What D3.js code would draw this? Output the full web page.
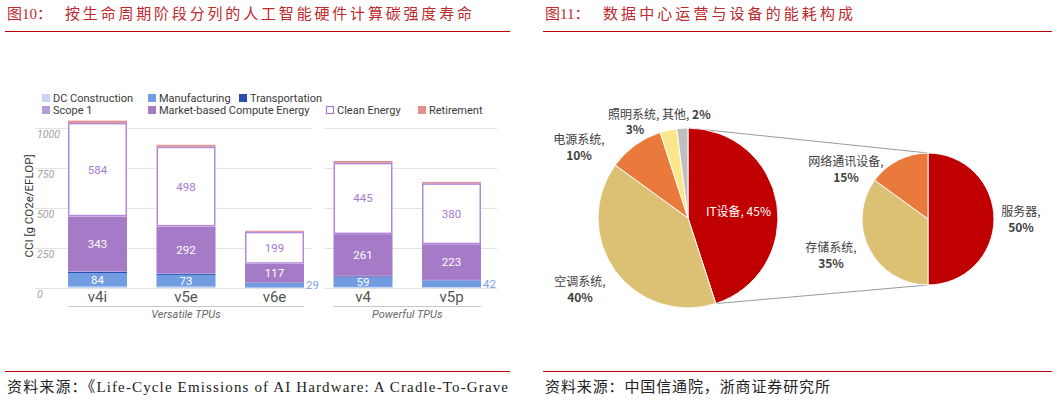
<!DOCTYPE html>
<html>
<head>
<meta charset="utf-8">
<script src="https://cdn.jsdelivr.net/npm/d3@7"></script>
<style>
  body { margin: 0; background: #fff; }
  svg { display: block; }
</style>
</head>
<body>
<div id="chart"></div>
<script>
// TPU carbon intensity by life-cycle stage (g CO2e / EFLOP)
const tpuNames = ['v4i', 'v5e', 'v6e', 'v4', 'v5p'];
const tpuGroups = ['Versatile TPUs', 'Versatile TPUs', 'Versatile TPUs', 'Powerful TPUs', 'Powerful TPUs'];
const stageNames = ['DC Construction', 'Manufacturing', 'Transportation', 'Scope 1',
  'Market-based Compute Energy', 'Clean Energy', 'Retirement'];
const dcConstruction = [9, 9, 3, 7, 6];
const manufacturing = [84, 73, 29, 59, 42];
const transportation = [9, 8, 2, 7, 1];
const scope1 = [3, 3, 1, 3, 2];
const marketEnergy = [343, 292, 117, 261, 223];
const cleanEnergy = [584, 498, 199, 445, 380];
const retirement = [14, 12, 7, 12, 9];
const yTicks = [0, 250, 500, 750, 1000];

// data centre energy breakdown (%)
const energyParts = ['IT设备', '空调系统', '电源系统', '照明系统', '其他'];
const energyShare = [45, 40, 10, 3, 2];
const itParts = ['服务器', '存储系统', '网络通讯设备'];
const itShare = [50, 35, 15];

const W = 1058, H = 402;
const svg = d3.select('#chart').append('svg').attr('width', W).attr('height', H);

const cjkSerif = '"Liberation Serif", "Noto Sans CJK SC", serif';
const cjkSans = '"Noto Sans CJK SC", sans-serif';
const redTitle = '#bd2a2e';
const redLine = '#c00000';

// ---------- headers and footers ----------
function header(x0, x1, num, title, titleX, titleLen) {
  svg.append('text').attr('x', x0 + 2).attr('y', 19)
    .attr('font-family', cjkSerif).attr('font-size', 15).attr('fill', redTitle)
    .text(num);
  svg.append('text').attr('x', titleX).attr('y', 19)
    .attr('font-family', cjkSerif).attr('font-size', 15).attr('fill', redTitle)
    .attr('textLength', titleLen).attr('lengthAdjust', 'spacing')
    .text(title);
  svg.append('line').attr('x1', x0).attr('x2', x1).attr('y1', 31.5).attr('y2', 31.5)
    .attr('stroke', redLine).attr('stroke-width', 1);
  svg.append('line').attr('x1', x0).attr('x2', x1).attr('y1', 371.5).attr('y2', 371.5)
    .attr('stroke', redLine).attr('stroke-width', 1);
}
header(5, 510, '图10：', '按生命周期阶段分列的人工智能硬件计算碳强度寿命', 65, 407);
header(543, 1052, '图11：', '数据中心运营与设备的能耗构成', 603, 250);

svg.append('text').attr('x', 7).attr('y', 392)
  .attr('font-family', cjkSerif).attr('font-size', 15).attr('fill', '#222')
  .attr('textLength', 501).attr('lengthAdjust', 'spacing')
  .text('资料来源：《Life-Cycle Emissions of AI Hardware: A Cradle-To-Grave');
svg.append('text').attr('x', 545).attr('y', 392)
  .attr('font-family', cjkSerif).attr('font-size', 15).attr('fill', '#222')
  .attr('textLength', 285).attr('lengthAdjust', 'spacing')
  .text('资料来源：中国信通院，浙商证券研究所');

// ---------- left: stacked bars ----------
const stageColors = ['#c6d6f4', '#729ce2', '#2c4db0', '#b79bd8', '#a57bc8', '#ffffff', '#e39090'];
const stageSeries = [dcConstruction, manufacturing, transportation, scope1, marketEnergy, cleanEnergy, retirement];

const table = tpuNames.map((name, i) => {
  const row = { name: name, group: tpuGroups[i] };
  stageNames.forEach((s, k) => { row[s] = stageSeries[k][i]; });
  return row;
});
const stacked = d3.stack().keys(stageNames)(table);

const x = d3.scaleBand().domain(tpuNames).range([68, 481]).paddingInner(1 / 3).paddingOuter(0);
const y = d3.scaleLinear().domain([0, 1000]).range([288, 128]);

const left = svg.append('g').attr('font-family', 'Roboto, sans-serif');

// gridlines broken between the two TPU groups
const gridSpans = [[35, 311], [325, 497]];
gridSpans.forEach(sp => {
  left.append('g').selectAll('line').data(yTicks).join('line')
    .attr('x1', sp[0]).attr('x2', sp[1])
    .attr('y1', d => y(d) + 0.5).attr('y2', d => y(d) + 0.5)
    .attr('stroke', '#e2e2e2').attr('stroke-width', 1);
});
left.append('g').selectAll('text').data(yTicks).join('text')
  .attr('x', 37).attr('y', d => y(d) + 10)
  .attr('font-size', 10.5).attr('font-style', 'italic').attr('fill', '#a0a0a0')
  .text(d => d);

left.append('text')
  .attr('transform', 'translate(33,206) rotate(-90)')
  .attr('text-anchor', 'middle').attr('font-size', 11.5).attr('fill', '#333')
  .text('CCI [g CO2e/EFLOP]');

// bars
const layers = left.append('g').selectAll('g').data(stacked).join('g')
  .attr('fill', (d, i) => stageColors[i]);
layers.selectAll('rect').data(d => d).join('rect')
  .attr('x', d => x(d.data.name))
  .attr('width', x.bandwidth())
  .attr('y', d => y(d[1]))
  .attr('height', d => y(d[0]) - y(d[1]));

// clean energy outline
left.append('g').selectAll('rect').data(stacked[5]).join('rect')
  .attr('x', d => x(d.data.name) + 0.75)
  .attr('width', x.bandwidth() - 1.5)
  .attr('y', d => y(d[1]) + 0.75)
  .attr('height', d => y(d[0]) - y(d[1]) - 1.5)
  .attr('fill', 'none').attr('stroke', '#b48ad8').attr('stroke-width', 1.5);

// value labels
function segLabels(layer, fillIn, fillOut) {
  left.append('g').selectAll('text').data(layer).join('text')
    .each(function (d) {
      const h = y(d[0]) - y(d[1]);
      const cy = (y(d[0]) + y(d[1])) / 2 + 4;
      const t = d3.select(this).attr('font-size', 11.5).text(d[1] - d[0]);
      if (h >= 8) {
        t.attr('x', x(d.data.name) + x.bandwidth() / 2).attr('y', cy)
          .attr('text-anchor', 'middle').attr('fill', fillIn);
      } else {
        t.attr('x', x(d.data.name) + x.bandwidth() + 2).attr('y', cy)
          .attr('text-anchor', 'start').attr('fill', fillOut);
      }
    });
}
segLabels(stacked[1], '#fff', '#7fa2e8');
segLabels(stacked[4], '#fff', '#fff');
segLabels(stacked[5], '#a77bd2', '#a77bd2');

// category labels
left.append('g').selectAll('text').data(tpuNames).join('text')
  .attr('x', d => x(d) + x.bandwidth() / 2).attr('y', 302)
  .attr('text-anchor', 'middle').attr('font-size', 15).attr('fill', '#555')
  .text(d => d);

// group underline + labels
const groupNames = Array.from(new Set(tpuGroups));
groupNames.forEach(g => {
  const members = tpuNames.filter((n, i) => tpuGroups[i] === g);
  const gx0 = x(members[0]), gx1 = x(members[members.length - 1]) + x.bandwidth();
  left.append('line').attr('x1', gx0).attr('x2', gx1).attr('y1', 306.5).attr('y2', 306.5)
    .attr('stroke', '#c8c8c8').attr('stroke-width', 1);
  left.append('text').attr('x', (gx0 + gx1) / 2).attr('y', 318)
    .attr('text-anchor', 'middle').attr('font-size', 11).attr('font-style', 'italic')
    .attr('fill', '#666').text(g);
});

// legend
const legendPos = [[42, 94], [148, 94], [239, 94], [42, 106], [148, 106], [326, 106], [418, 106]];
const legend = left.append('g').selectAll('g').data(stageNames).join('g')
  .attr('transform', (d, i) => `translate(${legendPos[i][0]},${legendPos[i][1]})`);
legend.append('rect')
  .attr('x', (d, i) => i === 5 ? 0.5 : 0).attr('y', (d, i) => i === 5 ? 0.5 : 0)
  .attr('width', (d, i) => i === 5 ? 7 : 8).attr('height', (d, i) => i === 5 ? 7 : 8)
  .attr('fill', (d, i) => stageColors[i])
  .attr('stroke', (d, i) => i === 5 ? '#a57bc8' : 'none').attr('stroke-width', 1.2);
legend.append('text').attr('x', 11).attr('y', 8)
  .attr('font-size', 11).attr('fill', '#3a3a3a').text(d => d);

// ---------- right: pie of pie ----------
const right = svg.append('g').attr('font-family', cjkSans);
const energyColors = ['#c00000', '#dcc073', '#e97a3c', '#fbe68c', '#bfbfbf'];
const itColors = ['#c00000', '#dcc073', '#e97a3c'];

const bigC = [688, 218], bigR = 90;
const smallC = [928, 219], smallR = 66;

const pie = d3.pie().sort(null).value(d => d);
const bigArcs = pie(energyShare);
const smallArcs = pie(itShare);
const bigArc = d3.arc().innerRadius(0).outerRadius(bigR);
const smallArc = d3.arc().innerRadius(0).outerRadius(smallR);

function polar(c, r, a) { return [c[0] + r * Math.sin(a), c[1] - r * Math.cos(a)]; }

// connector lines from the IT slice to the second pie
const itSlice = bigArcs[0];
const conn = [
  [polar(bigC, bigR, itSlice.startAngle), polar(smallC, smallR, 0)],
  [polar(bigC, bigR, itSlice.endAngle), polar(smallC, smallR, Math.PI)]
];
right.append('g').selectAll('line').data(conn).join('line')
  .attr('x1', d => d[0][0]).attr('y1', d => d[0][1])
  .attr('x2', d => d[1][0]).attr('y2', d => d[1][1])
  .attr('stroke', '#808080').attr('stroke-width', 0.8);

right.append('g').attr('transform', `translate(${bigC})`)
  .selectAll('path').data(bigArcs).join('path')
  .attr('d', bigArc).attr('fill', (d, i) => energyColors[i])
  .attr('stroke', '#fff').attr('stroke-width', 1);

right.append('g').attr('transform', `translate(${smallC})`)
  .selectAll('path').data(smallArcs).join('path')
  .attr('d', smallArc).attr('fill', (d, i) => itColors[i])
  .attr('stroke', '#fff').attr('stroke-width', 1);

// labels (positions are layout offsets from each pie centre)
function pieLabel(cx, cy, lines, color) {
  const t = right.append('text').attr('text-anchor', 'middle')
    .attr('font-size', 12).attr('fill', color);
  lines.forEach((ln, i) => {
    t.append('tspan').attr('x', cx).attr('y', cy + i * 16)
      .attr('font-weight', /%$/.test(ln) && i > 0 ? 600 : 400).text(ln);
  });
}
const itCentroid = bigArc.centroid(itSlice);
right.append('text').attr('x', bigC[0] + itCentroid[0] + 6).attr('y', bigC[1] + itCentroid[1] + 5)
  .attr('text-anchor', 'middle').attr('font-size', 12).attr('fill', '#fff')
  .text(`${energyParts[0]}, ${energyShare[0]}%`);
pieLabel(bigC[0] - 108, bigC[1] + 68, [`${energyParts[1]},`, `${energyShare[1]}%`], '#404040');
pieLabel(bigC[0] - 109, bigC[1] - 74, [`${energyParts[2]},`, `${energyShare[2]}%`], '#404040');
right.append('text').attr('x', bigC[0] - 80).attr('y', bigC[1] - 99)
  .attr('font-size', 12).attr('fill', '#404040')
  .text(`${energyParts[3]}, ${energyParts[4]}, `)
  .append('tspan').attr('font-weight', 600).text(`${energyShare[4]}%`);
right.append('text').attr('x', bigC[0] - 53).attr('y', bigC[1] - 84)
  .attr('text-anchor', 'middle').attr('font-size', 12).attr('font-weight', 600).attr('fill', '#404040')
  .text(`${energyShare[3]}%`);

pieLabel(smallC[0] + 93, smallC[1] - 3, [`${itParts[0]},`, `${itShare[0]}%`], '#404040');
pieLabel(smallC[0] - 97, smallC[1] + 33, [`${itParts[1]},`, `${itShare[1]}%`], '#404040');
pieLabel(smallC[0] - 82, smallC[1] - 53, [`${itParts[2]},`, `${itShare[2]}%`], '#404040');
</script>
</body>
</html>
